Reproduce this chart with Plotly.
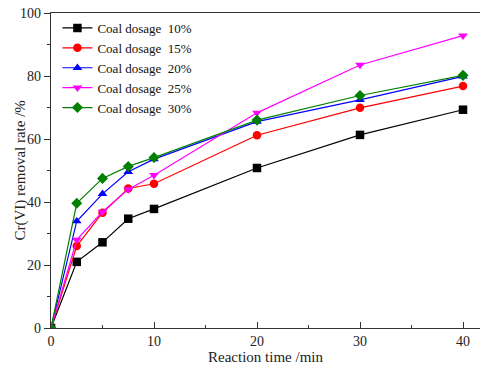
import plotly.graph_objects as go

# Reaction time (min)
time_min = [0, 2.5, 5, 7.5, 10, 20, 30, 40]

# Cr(VI) removal rate (%) for each coal dosage
dosage_labels = ["Coal dosage  10%", "Coal dosage  15%", "Coal dosage  20%",
                 "Coal dosage  25%", "Coal dosage  30%"]
rate_10 = [0, 21.0, 27.2, 34.7, 37.8, 50.8, 61.3, 69.3]
rate_15 = [0, 26.0, 36.6, 44.3, 45.8, 61.2, 69.9, 76.8]
rate_20 = [0, 33.9, 42.6, 49.6, 53.6, 65.5, 72.4, 79.9]
rate_25 = [0, 28.0, 36.9, 44.0, 48.5, 68.3, 83.5, 92.8]
rate_30 = [0, 39.6, 47.5, 51.3, 54.1, 66.0, 73.8, 80.2]

series = [rate_10, rate_15, rate_20, rate_25, rate_30]
colors = ["#000000", "#ff0000", "#0000ff", "#ff00ff", "#008000"]
symbols = ["square", "circle", "triangle-up", "triangle-down", "diamond"]

fig = go.Figure()
for name, ys, c, s in zip(dosage_labels, series, colors, symbols):
    fig.add_trace(go.Scatter(
        x=time_min, y=ys, name=name, mode="lines+markers",
        line=dict(color=c, width=1.2),
        marker=dict(symbol=s, size=8.5, color=c),
    ))

serif = "Liberation Serif, Times New Roman, serif"
font = dict(family=serif, size=14, color="#222222")

fig.update_layout(
    width=480, height=366,
    margin=dict(l=51, r=0, t=13, b=38),
    paper_bgcolor="white", plot_bgcolor="white",
    font=font,
    showlegend=True,
    legend=dict(x=0.015, y=1.0, xanchor="left", yanchor="top",
                bgcolor="rgba(0,0,0,0)", font=dict(size=13, family=serif, color="#111"),
                tracegroupgap=0, itemwidth=30),
)
fig.update_xaxes(
    range=[0, 41.65], showgrid=False, zeroline=False,
    showline=True, linecolor="#333333", linewidth=1.3, mirror=True,
    tickmode="array", tickvals=[0, 10, 20, 30, 40],
    ticks="inside", ticklen=6, tickcolor="#333333",
    minor=dict(tickvals=[5, 15, 25, 35], ticks="inside", ticklen=3, tickcolor="#333333"),
    title=dict(text="Reaction time /min", standoff=2, font=dict(size=15)),
)
fig.update_yaxes(
    range=[0, 100], showgrid=False, zeroline=False,
    showline=True, linecolor="#333333", linewidth=1.3,
    tickmode="array", tickvals=[0, 20, 40, 60, 80, 100],
    ticks="outside", ticklen=6, tickcolor="#333333",
    minor=dict(tickvals=[10, 30, 50, 70, 90], ticks="outside", ticklen=3, tickcolor="#333333"),
)

# Vertical axis title placed beside the tick labels
fig.add_annotation(
    text="Cr(VI) removal rate /%", textangle=-90,
    xref="paper", yref="paper", x=0, y=0.5, xanchor="center", yanchor="middle",
    xshift=-31, showarrow=False, font=dict(size=15, family=serif, color="#222222"),
)

fig.write_html("out.html")
